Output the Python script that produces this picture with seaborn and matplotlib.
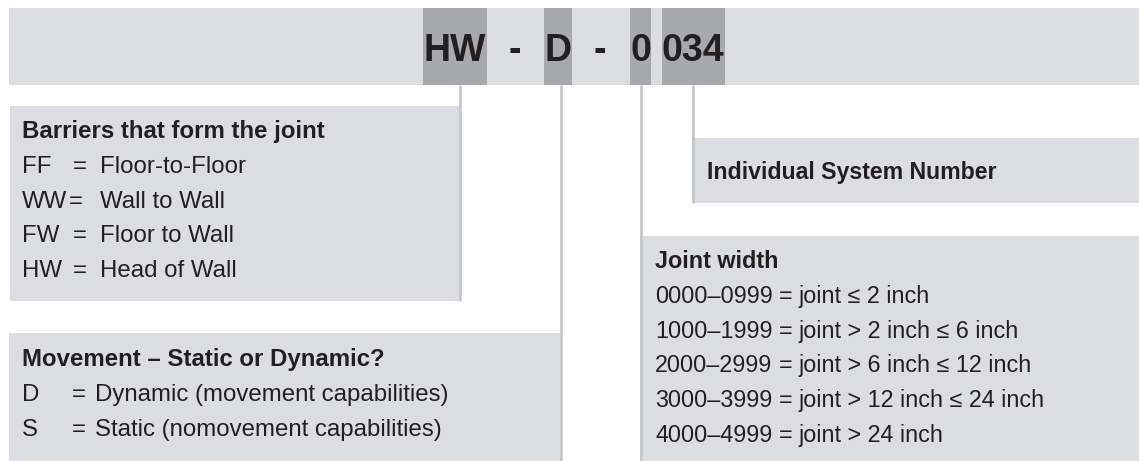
import matplotlib
matplotlib.use("Agg")
import matplotlib.pyplot as plt
from matplotlib.patches import Rectangle
import seaborn as sns

sns.set_theme(style="white")
plt.rcParams['font.family'] = ['Liberation Sans', 'DejaVu Sans']

# ---- content ----
code_parts = ["HW", "-", "D", "-", "0", "034"]
code_part_x = [455, 515, 558, 600, 641, 693]

barrier_title = "Barriers that form the joint"
barrier_codes = ["FF", "WW", "FW", "HW"]
barrier_eq_x = [80, 76, 80, 80]
barrier_desc = ["Floor-to-Floor", "Wall to Wall", "Floor to Wall", "Head of Wall"]

movement_title = "Movement \u2013 Static or Dynamic?"
movement_codes = ["D", "S"]
movement_desc = ["Dynamic (movement capabilities)", "Static (nomovement capabilities)"]

isn_title = "Individual System Number"

joint_title = "Joint width"
joint_ranges = ["0000\u20130999", "1000\u20131999", "2000\u20132999", "3000\u20133999", "4000\u20134999"]
joint_desc = ["joint \u2264 2 inch", "joint > 2 inch \u2264 6 inch", "joint > 6 inch \u2264 12 inch",
              "joint > 12 inch \u2264 24 inch", "joint > 24 inch"]

# ---- styles ----
LIGHT = "#dcdde0"
DARK = "#a8a9ac"
LINE = "#c4c5c9"
TXT = "#231f20"
FS_LEFT = 17.3
FS_ISN = 16.7
FS_JOINT = 16.8
W, H = 1139, 461

fig = plt.figure(figsize=(W / 100, H / 100), dpi=100)
ax = fig.add_axes([0, 0, 1, 1])
ax.set_xlim(0, W)
ax.set_ylim(H, 0)
ax.axis("off")

def rect(x0, y0, x1, y1, color, z=1):
    ax.add_patch(Rectangle((x0, y0), x1 - x0, y1 - y0, facecolor=color, edgecolor="none", zorder=z))

# banner
rect(9, 8, W, 85, LIGHT)
for x0, x1 in [(423, 487), (544, 572), (630, 651), (662, 725)]:
    rect(x0, 8, x1, 85, DARK, 2)
for t, x in zip(code_parts, code_part_x):
    ax.text(x, 61, t, ha="center", va="baseline", fontsize=27, fontweight="bold", color=TXT, zorder=5)

# boxes
rect(10, 106, 461, 301, LIGHT)
rect(9, 333, 561, H, LIGHT)
rect(692, 138, W, 203, LIGHT)
rect(640, 236, W, H, LIGHT)

# connector lines
for x, y1 in [(460, 301), (560.5, H), (641, H), (693, 203)]:
    ax.plot([x, x], [85, y1], color=LINE, lw=1.9, solid_capstyle="butt", zorder=3)

# barriers
ax.text(22, 138, barrier_title, fontsize=FS_LEFT, fontweight="bold", color=TXT, va="baseline")
for i, (c, ex, d) in enumerate(zip(barrier_codes, barrier_eq_x, barrier_desc)):
    y = 173 + i * 34.7
    ax.text(22, y, c, fontsize=FS_LEFT, color=TXT, va="baseline")
    ax.text(ex, y, "=", fontsize=FS_LEFT, color=TXT, va="baseline", ha="center")
    ax.text(100, y, d, fontsize=FS_LEFT, color=TXT, va="baseline")

# movement
ax.text(22, 366, movement_title, fontsize=FS_LEFT, fontweight="bold", color=TXT, va="baseline")
for i, (c, d) in enumerate(zip(movement_codes, movement_desc)):
    y = 401 + i * 34.5
    ax.text(22, y, c, fontsize=FS_LEFT, color=TXT, va="baseline")
    ax.text(79, y, "=", fontsize=FS_LEFT, color=TXT, va="baseline", ha="center")
    ax.text(95, y, d, fontsize=FS_LEFT, color=TXT, va="baseline")

# ISN
ax.text(707, 179, isn_title, fontsize=FS_ISN, fontweight="bold", color=TXT, va="baseline")

# joint width
ax.text(655, 268, joint_title, fontsize=FS_JOINT, fontweight="bold", color=TXT, va="baseline")
for i, (r, d) in enumerate(zip(joint_ranges, joint_desc)):
    y = 303 + i * 34.7
    ax.text(655, y, r, fontsize=FS_JOINT, color=TXT, va="baseline")
    ax.text(786, y, "=", fontsize=FS_JOINT, color=TXT, va="baseline", ha="center")
    ax.text(799, y, d, fontsize=FS_JOINT, color=TXT, va="baseline")

fig.savefig("out.png", dpi=100)
